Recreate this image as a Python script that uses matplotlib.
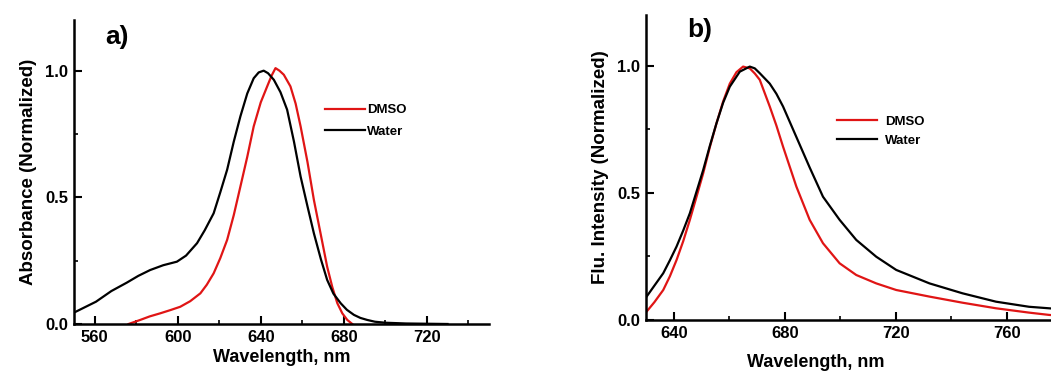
import numpy as np
import matplotlib
matplotlib.use("Agg")
import matplotlib.pyplot as plt
from matplotlib.ticker import MultipleLocator

plt.rcParams['font.family'] = ['Liberation Sans', 'DejaVu Sans']
plt.rcParams['font.weight'] = 'bold'

# a) absorbance
abs_water_wl = [550, 551, 560.6, 568, 575.4, 581, 586.7, 593, 599.6, 604, 609.3, 613, 617.3, 620.5, 623.8,
                627, 630.2, 633.5, 636.6, 639, 641.4, 643.5, 646.3, 649.5, 652.7, 656, 659.2, 662.5, 665.6,
                669, 672, 675, 678.5, 681.5, 684.9, 688, 691.3, 695, 700, 710, 720, 730]
abs_water = [0.045, 0.049, 0.088, 0.13, 0.163, 0.19, 0.213, 0.232, 0.246, 0.27, 0.319, 0.37, 0.437, 0.52, 0.609,
             0.72, 0.82, 0.91, 0.97, 0.993, 1.0, 0.99, 0.964, 0.915, 0.846, 0.72, 0.582, 0.465, 0.358,
             0.255, 0.174, 0.12, 0.082, 0.056, 0.036, 0.024, 0.016, 0.009, 0.005, 0.002, 0.001, 0.0]
abs_dmso_wl = [576.3, 581.9, 586.5, 591.5, 596.5, 601.2, 606, 610.9, 614, 617.3, 620.5, 623.8, 627, 630.2,
               633.5, 636.6, 640, 643.1, 645.2, 647.1, 649, 651.1, 654.3, 656.8, 659.2, 662.5, 665.6, 669,
               672, 674.5, 676.9, 679.3, 681.7, 684.1]
abs_dmso = [0.0, 0.016, 0.03, 0.042, 0.055, 0.068, 0.09, 0.121, 0.155, 0.2, 0.26, 0.332, 0.43, 0.543,
            0.66, 0.78, 0.875, 0.938, 0.98, 1.01, 1.0, 0.984, 0.938, 0.87, 0.78, 0.64, 0.49, 0.35,
            0.226, 0.145, 0.082, 0.042, 0.016, 0.0]

# b) fluorescence
flu_water_wl = [630.2, 633, 636.2, 638.6, 641, 643.4, 645.8, 648.2, 650.6, 653, 655.4, 657.8, 660.2, 663.8,
                667.4, 669.2, 671, 674.6, 677, 679.4, 684.2, 689, 693.8, 699.8, 705.8, 713, 720.2, 732.2,
                744.1, 756.2, 768.1, 775.3, 780]
flu_water = [0.092, 0.135, 0.184, 0.235, 0.289, 0.352, 0.42, 0.505, 0.59, 0.685, 0.774, 0.855, 0.918, 0.977,
             0.997, 0.99, 0.971, 0.93, 0.89, 0.84, 0.72, 0.60, 0.485, 0.394, 0.315, 0.249, 0.197, 0.144,
             0.105, 0.072, 0.052, 0.046, 0.042]
flu_dmso_wl = [630.2, 633, 636.2, 638.6, 641, 643.4, 645.8, 648.2, 650.6, 653, 655.4, 657.8, 660.2, 662.6,
               665, 667.4, 669.2, 671, 674.6, 677, 679.4, 684.2, 689, 693.8, 699.8, 705.8, 713, 720.2,
               732.2, 744.1, 756.2, 768.1, 775.3, 780]
flu_dmso = [0.033, 0.07, 0.118, 0.172, 0.236, 0.31, 0.394, 0.485, 0.577, 0.68, 0.774, 0.86, 0.93, 0.975,
            0.997, 0.99, 0.97, 0.945, 0.84, 0.765, 0.682, 0.525, 0.394, 0.302, 0.223, 0.177, 0.144, 0.118,
            0.092, 0.068, 0.046, 0.029, 0.02, 0.016]

red = '#e01515'

fig = plt.figure(figsize=(10.51, 3.71), dpi=100)
ax1 = fig.add_axes([0.0704, 0.1267, 0.3949, 0.8194])
ax2 = fig.add_axes([0.6147, 0.1375, 0.3958, 0.8221])


def style(ax, xmajor):
    for s in ['top', 'right']:
        ax.spines[s].set_visible(False)
    for s in ['left', 'bottom']:
        ax.spines[s].set_linewidth(1.8)
    ax.set_ylim(0, 1.2)
    ax.yaxis.set_major_locator(MultipleLocator(0.5))
    ax.yaxis.set_minor_locator(MultipleLocator(0.25))
    ax.xaxis.set_major_locator(MultipleLocator(xmajor))
    ax.xaxis.set_minor_locator(MultipleLocator(xmajor / 2))
    ax.tick_params(which='major', direction='in', length=6, width=1.5, labelsize=12, pad=4)
    ax.tick_params(which='minor', direction='in', length=3, width=1.2)
    ax.set_xlabel('Wavelength, nm', fontsize=13, fontweight='bold', labelpad=3)


ax1.plot(abs_dmso_wl, abs_dmso, color=red, lw=1.6, label='DMSO')
ax1.plot(abs_water_wl, abs_water, color='black', lw=1.6, label='Water')
ax1.set_xlim(550, 750)
style(ax1, 40)
ax1.set_ylabel('Absorbance (Normalized)', fontsize=13.5, fontweight='bold', labelpad=6)
ax1.text(0.075, 0.945, 'a)', transform=ax1.transAxes, fontsize=19, fontweight='bold', va='center')
ax1.legend(loc='upper left', bbox_to_anchor=(0.605, 0.724), frameon=False, fontsize=9.5,
           handlelength=3.0, handletextpad=0.15, labelspacing=0.7, borderpad=0, borderaxespad=0)

ax2.plot(flu_dmso_wl, flu_dmso, color=red, lw=1.6, label='DMSO')
ax2.plot(flu_water_wl, flu_water, color='black', lw=1.6, label='Water')
ax2.set_xlim(630, 780)
style(ax2, 40)
ax2.set_ylabel('Flu. Intensity (Normalized)', fontsize=13.5, fontweight='bold', labelpad=6)
ax2.xaxis.set_label_coords((816 - 646) / 416, -0.11)
ax2.text(0.099, 0.95, 'b)', transform=ax2.transAxes, fontsize=19, fontweight='bold', va='center')
ax2.legend(loc='upper left', bbox_to_anchor=(0.46, 0.67), frameon=False, fontsize=9.5,
           handlelength=3.0, handletextpad=0.6, labelspacing=0.5, borderpad=0, borderaxespad=0)

fig.savefig('out.png', dpi=100)
